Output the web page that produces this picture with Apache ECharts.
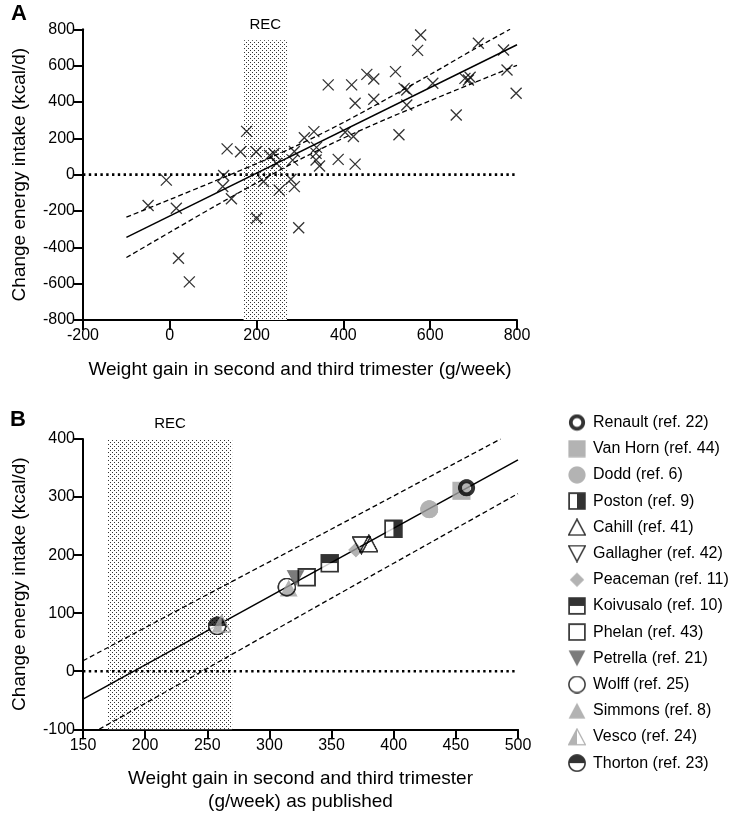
<!DOCTYPE html>
<html><head><meta charset="utf-8">
<script src="https://cdn.jsdelivr.net/npm/echarts@6/dist/echarts.min.js"></script>
<style>html,body{margin:0;padding:0;background:#fff}#c{width:745px;height:824px}</style>
</head><body><div id="c"></div>
<script>
// ---------- Panel A data ----------
const aX = [-50,-8,15,20,45,124,122,132,142,163,177,199,200,216,230,240,246,252,279,287,283,287,297,310,332,338,337,337,345,365,388,404,419,423,427,427,454,470,470,520,528,540,546,546,571,578,606,660,680,688,692,711,769,777,798];
const aY = [-170,-30,-185,-460,-590,-5,-65,142,-133,126,238,126,-240,-38,105,116,62,-85,-25,-66,80,127,-292,203,237,150,117,81,48,494,84,233,494,210,393,58,552,526,415,567,220,475,466,383,684,769,503,328,530,521,536,723,686,576,448];
const aFitX = [-100, 800];
const aFitY = [-345, 715];
const aBandX = [-100,0,100,200,300,400,500,600,700];
const aUpperY = [-234,-137,-39,61,168,287,417,551,689];
const aUpperEnd = [784, 800];
const aLowerY = [-456,-317,-179,-45,84,201,307,407,505];
const aLowerEnd = [800, 602];
const aXTicks = {min:-200, max:800, step:200};
const aYTicks = {min:-800, max:800, step:200};
const aRec = {x0:170, x1:270, y0:-800, y1:740};

// ---------- Panel B data ----------
const studies = ['Renault (ref. 22)','Van Horn (ref. 44)','Dodd (ref. 6)','Poston (ref. 9)','Cahill (ref. 41)','Gallagher (ref. 42)','Peaceman (ref. 11)','Koivusalo (ref. 10)','Phelan (ref. 43)','Petrella (ref. 21)','Wolff (ref. 25)','Simmons (ref. 8)','Vesco (ref. 24)','Thorton (ref. 23)'];
const studyX = [458.6,454.5,428.6,399.8,380,374,369.5,348.5,330,321,314,315.5,261.5,258];
const studyY = [316,311,279,245,220,217,209,186,162,160,145,143,82,78];
const bFitX = [150, 500];
const bFitY = [-48, 364];
const bUpperX = [150,250,350,450,486];
const bUpperY = [18,132,245,359,400];
const bLowerX = [163,250,350,450,500];
const bLowerY = [-100,5,126,246,306];
const bXTicks = {min:150, max:500, step:50};
const bYTicks = {min:-100, max:400, step:100};
const bRec = {x0:170, x1:270, y0:-100, y1:400};

// ---------- marker images ----------
const GRAY = '#a0a0a0', DARK = '#5a5a5a';
function mk(draw){
  const c=document.createElement('canvas'); c.width=c.height=72;
  const g=c.getContext('2d'); g.scale(4,4); draw(g);
  return 'image://'+c.toDataURL();
}
function triPath(g, up){
  g.beginPath();
  if(up){ g.moveTo(9,1.0); g.lineTo(17.4,16.8); g.lineTo(0.6,16.8); }
  else { g.moveTo(0.6,1.2); g.lineTo(17.4,1.2); g.lineTo(9,17.0); }
  g.closePath();
}
const markerDraw = [
  g=>{ g.beginPath(); g.arc(9,9,6.2,0,Math.PI*2); g.lineWidth=3.8; g.strokeStyle='#000'; g.stroke(); },
  g=>{ g.fillStyle=GRAY; g.fillRect(0.4,0.4,17.2,17.2); },
  g=>{ g.beginPath(); g.arc(9,9,8.6,0,Math.PI*2); g.fillStyle=GRAY; g.fill(); },
  g=>{ g.fillStyle='#fff'; g.fillRect(1.1,1.1,15.8,15.8); g.fillStyle='#000'; g.fillRect(9,1.1,7.9,15.8); g.lineWidth=1.7; g.strokeStyle='#000'; g.strokeRect(1.1,1.1,15.8,15.8); },
  g=>{ triPath(g,true); g.lineWidth=1.5; g.strokeStyle='#000'; g.stroke(); },
  g=>{ triPath(g,false); g.lineWidth=1.5; g.strokeStyle='#000'; g.stroke(); },
  g=>{ g.beginPath(); g.moveTo(9,1.8); g.lineTo(16.2,9); g.lineTo(9,16.2); g.lineTo(1.8,9); g.closePath(); g.fillStyle=GRAY; g.fill(); },
  g=>{ g.fillStyle='#fff'; g.fillRect(1.1,1.1,15.8,15.8); g.fillStyle='#000'; g.fillRect(1.1,1.1,15.8,7.9); g.lineWidth=1.7; g.strokeStyle='#000'; g.strokeRect(1.1,1.1,15.8,15.8); },
  g=>{ g.lineWidth=1.7; g.strokeStyle='#000'; g.strokeRect(1.1,1.1,15.8,15.8); },
  g=>{ triPath(g,false); g.fillStyle=DARK; g.fill(); },
  g=>{ g.beginPath(); g.arc(9,9,8.1,0,Math.PI*2); g.lineWidth=1.5; g.strokeStyle='#000'; g.stroke(); },
  g=>{ triPath(g,true); g.fillStyle=GRAY; g.fill(); },
  g=>{ g.save(); g.beginPath(); g.rect(0,0,9,18); g.clip(); triPath(g,true); g.fillStyle=GRAY; g.fill(); g.restore(); triPath(g,true); g.lineWidth=1.3; g.strokeStyle=GRAY; g.stroke(); },
  g=>{ g.beginPath(); g.arc(9,9,8.1,0,Math.PI*2); g.fillStyle='#fff'; g.fill(); g.beginPath(); g.arc(9,9,8.1,Math.PI,0); g.closePath(); g.fillStyle='#000'; g.fill(); g.beginPath(); g.arc(9,9,8.1,0,Math.PI*2); g.lineWidth=1.6; g.strokeStyle='#000'; g.stroke(); }
];
const symbols = markerDraw.map(mk);

// stipple pattern for REC band
const pat = document.createElement('canvas'); pat.width = 4; pat.height = 4;
(function(){ const g=pat.getContext('2d'); g.fillStyle='#fff'; g.fillRect(0,0,4,4); g.fillStyle='#333'; g.fillRect(0,0,1,1); g.fillRect(2,2,1,1); })();

const FONT = 'Liberation Sans, Arial, Helvetica, sans-serif';
const zip = (xs, ys) => xs.map((x,i)=>[x, ys[i]]);

function axisCommon(){
  return {
    axisLine:{show:true, onZero:false, lineStyle:{color:'#000', width:2}},
    axisTick:{show:true, inside:false, length:10, lineStyle:{color:'#000', width:2}},
    axisLabel:{color:'#000', fontSize:16, fontFamily:FONT},
    splitLine:{show:false},
    nameTextStyle:{color:'#000', fontSize:19, fontFamily:FONT, lineHeight:23}
  };
}

const chart = echarts.init(document.getElementById('c'));
const recStyle = {color:{image:pat, repeat:'repeat'}, opacity:1};
const recLabel = {show:true, position:'top', formatter:'REC', color:'#000', fontSize:15, fontFamily:FONT, distance:8};

const series = [
  // Panel A
  {type:'line', xAxisIndex:0, yAxisIndex:0, data:[[aXTicks.min,0],[795,0]], symbol:'none', silent:true,
   lineStyle:{color:'#000', width:2.6, type:[2.4,3.4]}, z:3,
   markArea:{silent:true, itemStyle:recStyle, label:recLabel,
     data:[[{xAxis:aRec.x0, yAxis:aRec.y0},{xAxis:aRec.x1, yAxis:aRec.y1}]]}},
  {type:'line', xAxisIndex:0, yAxisIndex:0, data:zip(aFitX,aFitY), symbol:'none', lineStyle:{color:'#000', width:1.5}, z:4},
  {type:'line', xAxisIndex:0, yAxisIndex:0, data:zip(aBandX,aUpperY).concat([aUpperEnd]), symbol:'none', smooth:0.3, lineStyle:{color:'#000', width:1.3, type:[5,3]}, z:4},
  {type:'line', xAxisIndex:0, yAxisIndex:0, data:zip(aBandX,aLowerY).concat([aLowerEnd]), symbol:'none', smooth:0.3, lineStyle:{color:'#000', width:1.3, type:[5,3]}, z:4},
  {type:'scatter', xAxisIndex:0, yAxisIndex:0, data:zip(aX,aY), symbol:'path://M0,0L12,12M12,0L0,12', symbolSize:11,
   itemStyle:{color:'transparent', borderColor:'#000', borderWidth:1.3}, z:5},
  // Panel B
  {type:'line', xAxisIndex:1, yAxisIndex:1, data:[[bXTicks.min,0],[498,0]], symbol:'none', silent:true,
   lineStyle:{color:'#000', width:2.6, type:[2.4,3.4]}, z:3,
   markArea:{silent:true, itemStyle:recStyle, label:recLabel,
     data:[[{xAxis:bRec.x0, yAxis:bRec.y0},{xAxis:bRec.x1, yAxis:bRec.y1}]]}},
  {type:'line', xAxisIndex:1, yAxisIndex:1, data:zip(bFitX,bFitY), symbol:'none', lineStyle:{color:'#000', width:1.5}, z:4},
  {type:'line', xAxisIndex:1, yAxisIndex:1, data:zip(bUpperX,bUpperY), symbol:'none', smooth:0.3, lineStyle:{color:'#000', width:1.3, type:[5,3]}, z:4},
  {type:'line', xAxisIndex:1, yAxisIndex:1, data:zip(bLowerX,bLowerY), symbol:'none', smooth:0.3, lineStyle:{color:'#000', width:1.3, type:[5,3]}, z:4}
];
// studies drawn last-to-first so that the first legend entry sits on top
for (let i = studies.length-1; i >= 0; i--) {
  series.push({type:'scatter', name:studies[i], xAxisIndex:1, yAxisIndex:1, data:[[studyX[i], studyY[i]]],
    symbol:symbols[i], symbolSize:19, z:5});
}

chart.setOption({
  animation:false,
  backgroundColor:'#fff',
  textStyle:{fontFamily:FONT},
  grid:[
    {left:82, top:29.3, width:435, height:290.7},
    {left:82, top:439, width:436, height:290.3}
  ],
  xAxis:[
    Object.assign(axisCommon(), {type:'value', gridIndex:0, min:aXTicks.min, max:aXTicks.max, interval:aXTicks.step,
      name:'Weight gain in second and third trimester (g/week)', nameLocation:'middle', nameGap:38}),
    Object.assign(axisCommon(), {type:'value', gridIndex:1, min:bXTicks.min, max:bXTicks.max, interval:bXTicks.step,
      name:'Weight gain in second and third trimester\n(g/week) as published', nameLocation:'middle', nameGap:38})
  ],
  yAxis:[
    Object.assign(axisCommon(), {type:'value', gridIndex:0, min:aYTicks.min, max:aYTicks.max, interval:aYTicks.step,
      name:'Change energy intake (kcal/d)', nameLocation:'middle', nameGap:52}),
    Object.assign(axisCommon(), {type:'value', gridIndex:1, min:bYTicks.min, max:bYTicks.max, interval:bYTicks.step,
      name:'Change energy intake (kcal/d)', nameLocation:'middle', nameGap:52})
  ],
  legend:{
    orient:'vertical', left:563, top:408.5, itemWidth:18, itemHeight:18, itemGap:8.2, selectedMode:false,
    textStyle:{color:'#000', fontSize:16, fontFamily:FONT, padding:[0,0,0,2]},
    data:studies.map((s,i)=>({name:s, icon:symbols[i]}))
  },
  graphic:[
    {type:'text', left:11, top:3, style:{text:'A', font:'bold 22px '+FONT, fill:'#000'}},
    {type:'text', left:10, top:409, style:{text:'B', font:'bold 22px '+FONT, fill:'#000'}}
  ],
  series:series
});
</script></body></html>
